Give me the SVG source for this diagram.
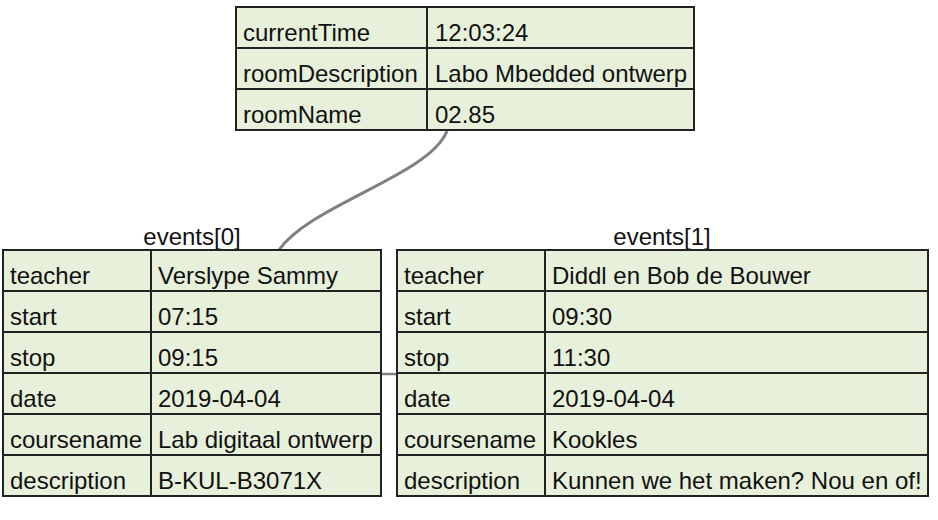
<svg xmlns="http://www.w3.org/2000/svg" width="938" height="520" viewBox="0 0 938 520">
<style>
.cell{fill:#e7f0da;stroke:#222;stroke-width:2}
.div{stroke:#222;stroke-width:2}
text{font-family:"Liberation Sans",Arial,sans-serif;font-size:24px;fill:#111}
.title{text-anchor:middle}
.conn{fill:none;stroke:#808080}
</style>
<rect width="938" height="520" fill="#fff"/>
<g id="connectors">
<path class="conn" stroke-width="3" d="M447,131 C430,175 310,205 279,250"/>
<line class="conn" stroke-width="2.5" x1="381" y1="374" x2="397" y2="374"/>
</g>
<g id="root">
<rect class="cell" x="236" y="7" width="458" height="123"/>
<line class="div" x1="236" y1="48" x2="694" y2="48"/>
<line class="div" x1="236" y1="89" x2="694" y2="89"/>
<line class="div" x1="427" y1="7" x2="427" y2="130"/>
<text x="243" y="41">currentTime</text><text x="435" y="41">12:03:24</text>
<text x="243" y="82">roomDescription</text><text x="435" y="82">Labo Mbedded ontwerp</text>
<text x="243" y="123">roomName</text><text x="435" y="123">02.85</text>
</g>
<g id="events0">
<text class="title" x="192" y="245">events[0]</text>
<rect class="cell" x="3" y="250" width="378" height="246"/>
<line class="div" x1="3" y1="291" x2="381" y2="291"/>
<line class="div" x1="3" y1="332" x2="381" y2="332"/>
<line class="div" x1="3" y1="373" x2="381" y2="373"/>
<line class="div" x1="3" y1="414" x2="381" y2="414"/>
<line class="div" x1="3" y1="455" x2="381" y2="455"/>
<line class="div" x1="151" y1="250" x2="151" y2="496"/>
<text x="10" y="284">teacher</text><text x="158" y="284">Verslype Sammy</text>
<text x="10" y="325">start</text><text x="158" y="325">07:15</text>
<text x="10" y="366">stop</text><text x="158" y="366">09:15</text>
<text x="10" y="407">date</text><text x="158" y="407">2019-04-04</text>
<text x="10" y="448">coursename</text><text x="158" y="448">Lab digitaal ontwerp</text>
<text x="10" y="489">description</text><text x="158" y="489">B-KUL-B3071X</text>
</g>
<g id="events1">
<text class="title" x="662" y="245">events[1]</text>
<rect class="cell" x="397" y="250" width="531" height="246"/>
<line class="div" x1="397" y1="291" x2="928" y2="291"/>
<line class="div" x1="397" y1="332" x2="928" y2="332"/>
<line class="div" x1="397" y1="373" x2="928" y2="373"/>
<line class="div" x1="397" y1="414" x2="928" y2="414"/>
<line class="div" x1="397" y1="455" x2="928" y2="455"/>
<line class="div" x1="545" y1="250" x2="545" y2="496"/>
<text x="404" y="284">teacher</text><text x="552" y="284">Diddl en Bob de Bouwer</text>
<text x="404" y="325">start</text><text x="552" y="325">09:30</text>
<text x="404" y="366">stop</text><text x="552" y="366">11:30</text>
<text x="404" y="407">date</text><text x="552" y="407">2019-04-04</text>
<text x="404" y="448">coursename</text><text x="552" y="448">Kookles</text>
<text x="404" y="489">description</text><text x="552" y="489">Kunnen we het maken? Nou en of!</text>
</g>
</svg>
